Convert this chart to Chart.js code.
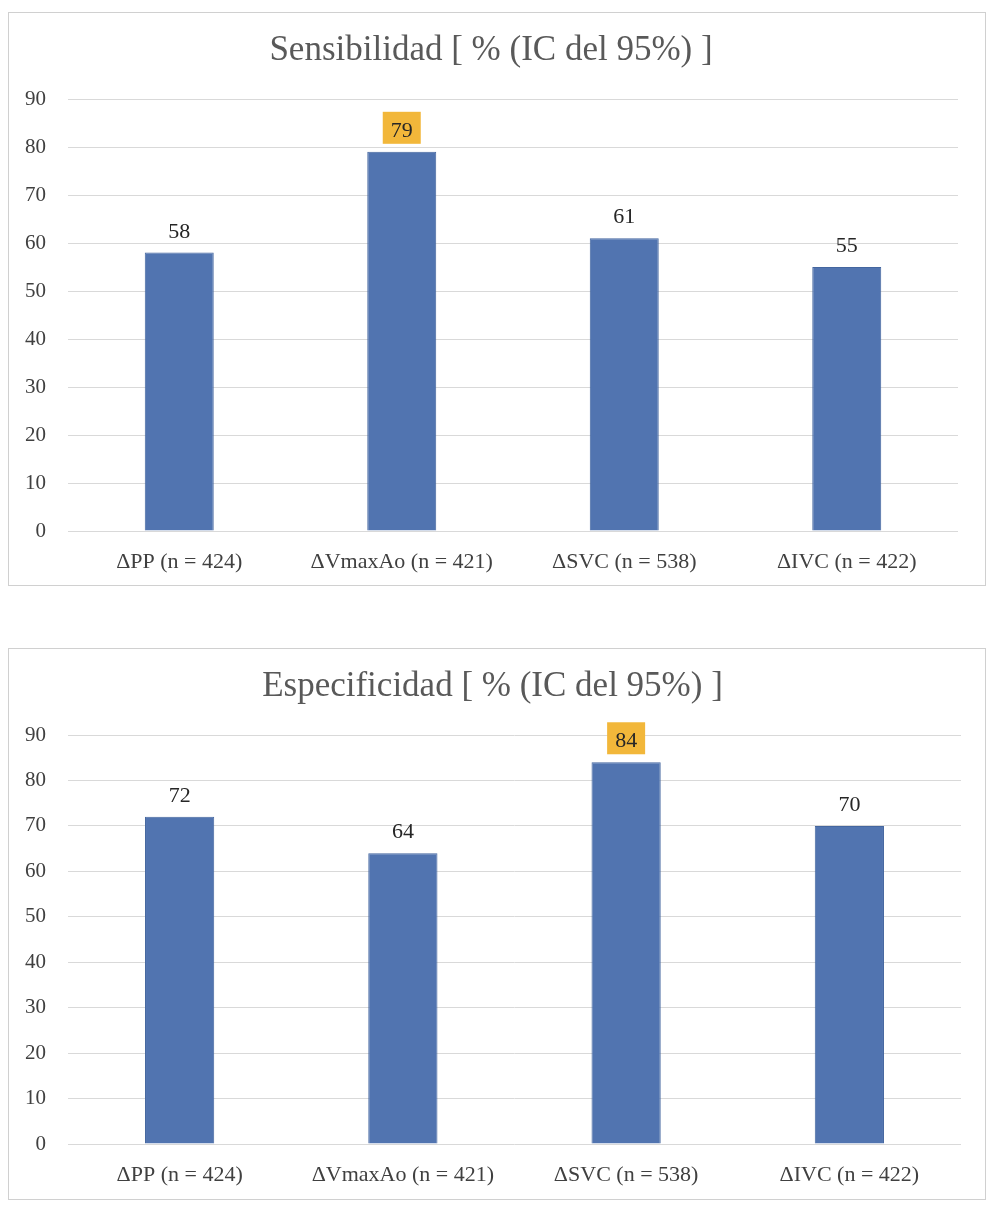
<!DOCTYPE html>
<html>
<head>
<meta charset="utf-8">
<script src="https://cdn.jsdelivr.net/npm/chart.js@4"></script>
<style>
	html, body { margin: 0; padding: 0; background: #fff; }
	body { width: 1000px; height: 1214px; position: relative; }
	.chart-box {
		position: absolute;
		left: 8px;
		width: 978px;
		box-sizing: border-box;
		border: 1px solid #d0d0d0;
		background: #fff;
	}
	.chart-box canvas { display: block; }
</style>
</head>
<body>
<div class="chart-box" id="box-sens" style="top:12px;height:574px">
	<canvas id="chart-sens" width="976" height="572"></canvas>
</div>
<div class="chart-box" id="box-espec" style="top:648px;height:552px">
	<canvas id="chart-espec" width="976" height="550"></canvas>
</div>
<script>
const categories = ['ΔPP (n = 424)', 'ΔVmaxAo (n = 421)', 'ΔSVC (n = 538)', 'ΔIVC (n = 422)']
const sensibilidad = [58, 79, 61, 55]
const especificidad = [72, 64, 84, 70]
const yTicks = [0, 10, 20, 30, 40, 50, 60, 70, 80, 90]

const FONT = "'Liberation Serif', 'DejaVu Serif', serif"
const BAR = '#5174b0'
const HIGHLIGHT = '#f2b73a'

// etiquetas sobre las barras, la mayor con fondo naranja
const valueLabels = {
	id: 'valueLabels',
	afterDatasetsDraw(chart) {
		const ctx = chart.ctx
		const data = chart.data.datasets[0].data
		const maxIdx = data.indexOf(Math.max(...data))
		const meta = chart.getDatasetMeta(0)
		ctx.save()
		ctx.font = '22px ' + FONT
		ctx.textAlign = 'center'
		ctx.textBaseline = 'alphabetic'
		meta.data.forEach((bar, i) => {
			const txt = String(data[i])
			const base = bar.y - 15
			if (i === maxIdx) {
				const w = ctx.measureText(txt).width + 16
				ctx.fillStyle = HIGHLIGHT
				ctx.fillRect(bar.x - w / 2, bar.y - 40, w, 32)
			}
			ctx.fillStyle = '#262626'
			ctx.fillText(txt, bar.x, base)
		})
		ctx.restore()
	},
}

function makeChart(id, title, values, pad) {
	return new Chart(document.getElementById(id), {
		type: 'bar',
		data: {
			labels: categories,
			datasets: [
				{
					data: values,
					backgroundColor: BAR,
					borderColor: '#44669f',
					borderWidth: 1,
					barPercentage: 0.31,
					categoryPercentage: 1,
				},
			],
		},
		options: {
			responsive: false,
			animation: false,
			layout: { padding: pad },
			scales: {
				x: {
					grid: { display: false, drawTicks: false },
					border: { display: false },
					ticks: { color: '#404040', font: { family: FONT, size: 22 }, padding: 18, maxRotation: 0 },
					afterFit: axis => { axis.height = 42 },
				},
				y: {
					min: 0,
					max: 90,
					afterBuildTicks: axis => {
						axis.ticks = yTicks.map(v => ({ value: v }))
					},
					grid: { color: '#d9d9d9', drawTicks: false },
					border: { display: false },
					ticks: { color: '#404040', font: { family: FONT, size: 21 }, padding: 22 },
					afterFit: axis => { axis.width = 44 },
				},
			},
			plugins: {
				legend: { display: false },
				tooltip: { enabled: false },
				title: {
					display: true,
					text: title,
					color: '#595959',
					font: { family: FONT, size: 35, weight: 'normal' },
					padding: { top: 17, bottom: 27 },
				},
			},
		},
		plugins: [valueLabels],
	})
}

makeChart('chart-sens', 'Sensibilidad [ % (IC del 95%) ]', sensibilidad, { left: 15, right: 27, top: 0, bottom: 12 })
makeChart('chart-espec', 'Especificidad [ % (IC del 95%) ]', especificidad, { left: 15, right: 24, top: 0, bottom: 13 })
</script>
</body>
</html>
